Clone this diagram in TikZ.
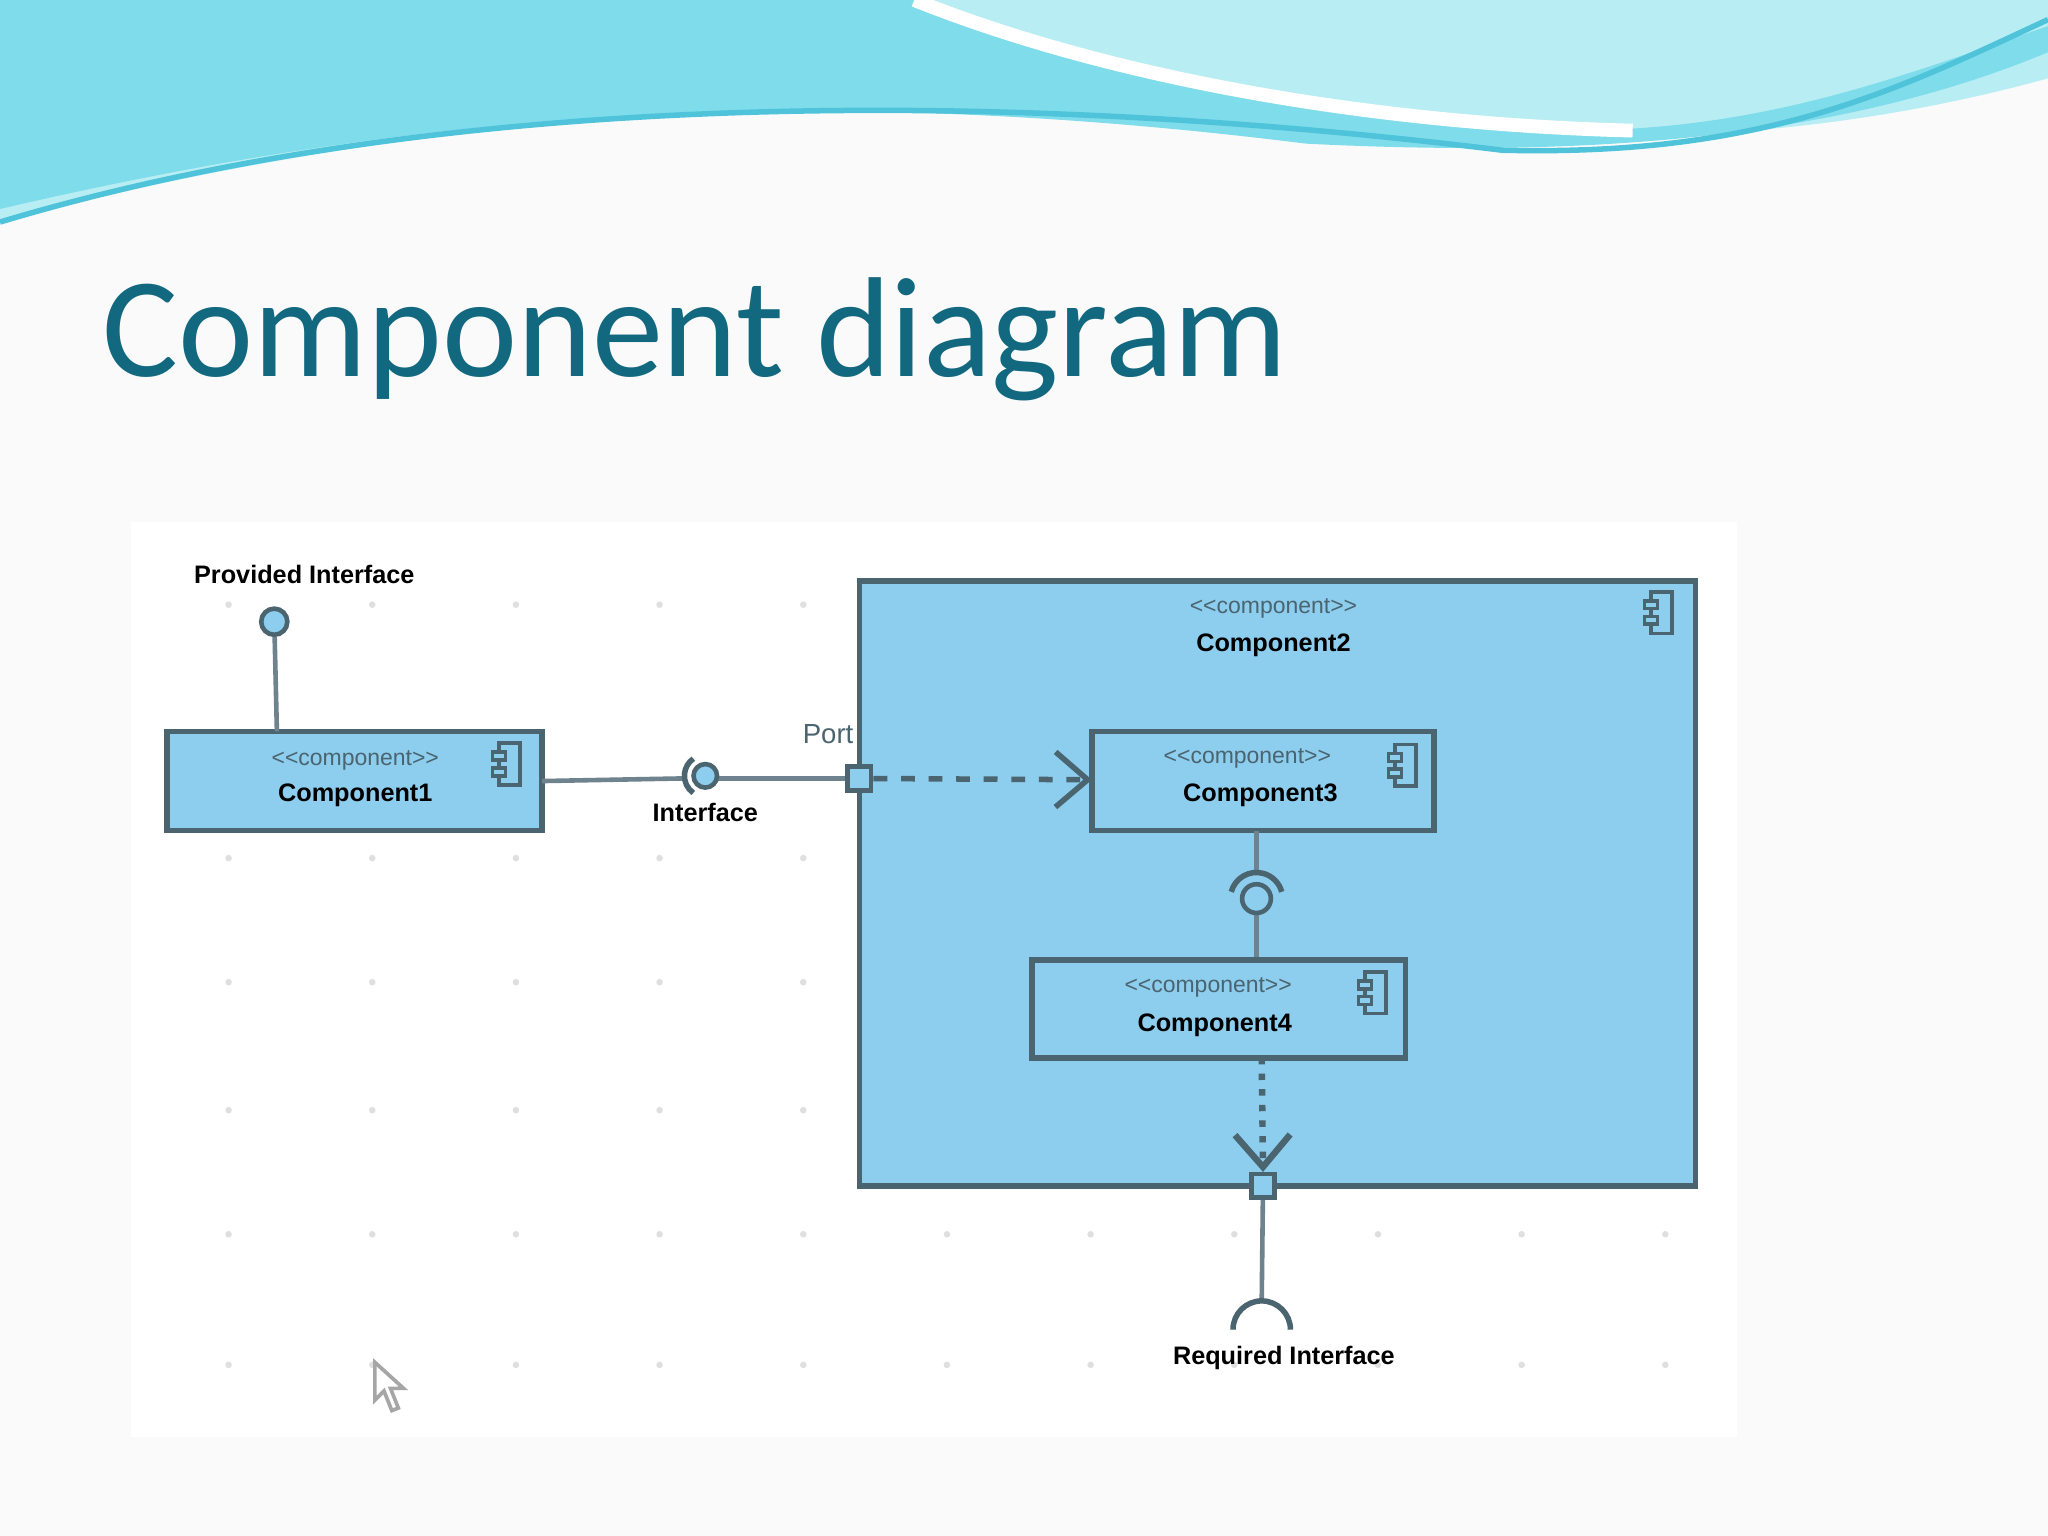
\documentclass[tikz,border=0pt]{standalone}
\usepackage{fontspec}
\setmainfont[Ligatures=NoCommon]{Liberation Sans}
\newfontfamily\titlefont{Carlito}
\usetikzlibrary{arrows.meta,calc}
\definecolor{cfill}{HTML}{8DCDED}
\definecolor{cline}{HTML}{4A6470}
\definecolor{ttl}{HTML}{12687E}
\definecolor{wave1}{HTML}{7FDCEA}
\definecolor{wave2}{HTML}{B8EEF3}
\definecolor{wave3}{HTML}{4FC3DA}
\tikzset{
 comp/.style={draw=cline,line width=1.2pt,fill=cfill},
 stereo/.style={font=\fontsize{5}{6}\selectfont,text=cline},
 cname/.style={font=\bfseries\fontsize{5.5}{6}\selectfont},
 lbl/.style={font=\bfseries\fontsize{5.5}{6}\selectfont},
 wire/.style={draw=cline!80,line width=1pt},
 port/.style={draw=cline,fill=cfill,line width=1pt,minimum size=0.18cm,inner sep=0pt},
 ball/.style={draw=cline,fill=cfill,circle,line width=1pt,inner sep=0pt},
 sock/.style={draw=cline,line width=1.2pt},
 gdot/.style={fill=gray!25,circle,inner sep=0pt,minimum size=0.05cm},
}
\newcommand{\compicon}[1]{%
 \draw[cline,line width=0.8pt,fill=cfill] ($(#1)+(-8,-16)$) rectangle ($(#1)+(8,16)$);
 \draw[cline,line width=0.8pt,fill=cfill] ($(#1)+(-13,-9)$) rectangle ($(#1)+(-3,-3)$);
 \draw[cline,line width=0.8pt,fill=cfill] ($(#1)+(-13,3)$) rectangle ($(#1)+(-3,9)$);}
\newcommand{\st}{\char"3C\kern0pt\char"3C component\char"3E\kern0pt\char"3E}
\begin{document}
\begin{tikzpicture}[x=0.01cm,y=-0.01cm]
\useasboundingbox (0,0) rectangle (1568,1176);
\fill[white!96!gray] (0,0) rectangle (1568,1176);
% header waves
\fill[wave2] (0,0) -- (1568,0) -- (1568,60) .. controls (1350,120) and (1150,110) .. (900,90) .. controls (600,70) and (300,90) .. (0,170) -- cycle;
\fill[wave1] (0,0) -- (700,0) .. controls (800,50) and (1000,90) .. (1200,100) .. controls (1350,100) and (1450,60) .. (1568,20) -- (1568,40) .. controls (1400,110) and (1200,120) .. (1000,110) .. controls (600,60) and (300,90) .. (0,160) -- cycle;
\draw[wave3,line width=1.2pt] (0,170) .. controls (300,80) and (700,60) .. (1150,115) .. controls (1350,120) and (1450,70) .. (1568,15);
\draw[white,line width=3pt] (700,0) .. controls (850,60) and (1050,95) .. (1250,100);
% title
\node[anchor=base west,inner sep=0pt,text=ttl,font=\titlefont\fontsize{31}{32}\selectfont] (title) at (78,288) {Component diagram};
% diagram bg
\fill[white] (100,400) rectangle (1330,1100);
\foreach \x in {175,285,395,505,615,725,835,945,1055,1165,1275}
 \foreach \y in {463,657,752,850,945,1045}
  \node[gdot] at (\x,\y) {};
% component2
\draw[comp] (658,445) rectangle (1298,908);
\node[stereo] (s2) at (975,466) {\st};
\node[cname] (n2) at (975,494) {Component2};
\compicon{1272,469}
% component1
\draw[comp] (128,560) rectangle (415,636);
\node[stereo] at (272,582) {\st};
\node[cname] at (272,609) {Component1};
\compicon{390,585}
% provided interface
\coordinate (c1top) at (212,560);
\node[ball,minimum size=0.2cm] (pi) at (210,476) {};
\draw[wire] (pi) -- (c1top);
\node[lbl] at (233,440) {Provided Interface};
% interface between c1 and port
\node[port] (p1) at (658,596) {};
\coordinate (c1r) at (415,598);
\coordinate (ifcc) at (540,594);
\draw[wire] (c1r) -- (522,596);
\draw[wire] (p1) -- (548,596);
\node[ball,minimum size=0.18cm] (ifc) at (ifcc) {};
\draw[sock] ($(ifcc)+(125:16)$) arc (125:235:16);
\node[lbl] at (540,622) {Interface};
\node[stereo,font=\fontsize{6}{7}\selectfont] at (634,562) {Port};
% component3
\draw[comp] (836,560) rectangle (1098,636);
\node[stereo] at (955,581) {\st};
\node[cname] at (965,609) {Component3};
\compicon{1076,586}
\coordinate (c3l) at (836,597);
\draw[cline,line width=1.2pt,dashed,-{Straight Barb[length=7pt,width=12pt]}] (p1) -- (c3l);
% ball socket c3-c4
\coordinate (c3b) at (962,636);
\coordinate (c4t) at (962,735);
\coordinate (bsc) at (962,688);
\draw[wire] (c3b) -- (962,668);
\draw[wire] (962,700) -- (c4t);
\node[ball,minimum size=0.22cm] at (bsc) {};
\draw[sock] ($(bsc)+(195:20)$) arc (195:345:20);
% component4
\draw[comp] (790,735) rectangle (1076,810);
\node[stereo] at (925,756) {\st};
\node[cname] at (930,785) {Component4};
\compicon{1053,760}
% dotted arrow to port2
\node[port] (p2) at (967,908) {};
\coordinate (c4b) at (966,810);
\draw[cline,line width=1.4pt,dotted,-{Straight Barb[length=7pt,width=12pt]}] (c4b) -- (p2.north);
% required interface
\coordinate (rq) at (966,1018);
\draw[wire] (p2) -- (966,996);
\draw[sock] ($(rq)+(180:22)$) arc (180:360:22);
\node[lbl] at (983,1040) {Required Interface};
% cursor
\draw[gray!70,fill=white,line width=0.8pt] (287,1043) -- (287,1072) -- (294,1065) -- (300,1080) -- (305,1078) -- (299,1063) -- (309,1063) -- cycle;
\end{tikzpicture}
\end{document}
